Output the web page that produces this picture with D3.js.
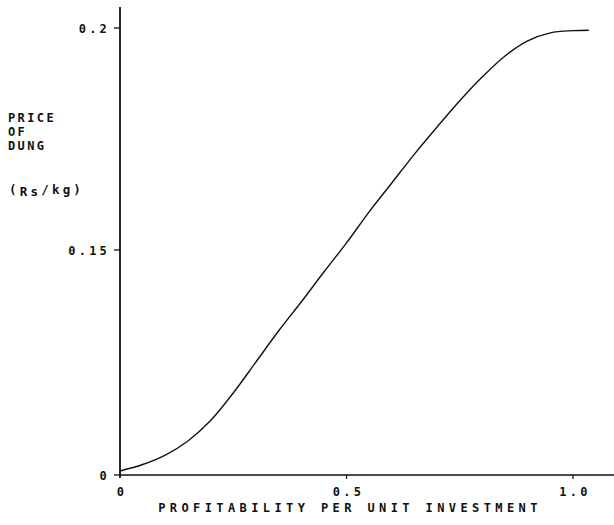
<!DOCTYPE html>
<html><head><meta charset="utf-8">
<script src="https://cdn.jsdelivr.net/npm/d3@7"></script>
<style>
body{margin:0;background:#fff;}
text{font-family:"DejaVu Sans Mono",monospace;fill:#111;font-weight:bold;}
</style></head>
<body><svg id="c" width="614" height="525"></svg>
<script>
const profitability = [0, 0.05, 0.1, 0.15, 0.2, 0.25, 0.3, 0.35, 0.4, 0.45, 0.5, 0.55, 0.6, 0.65, 0.7, 0.75, 0.8, 0.85, 0.9, 0.95, 1.0, 1.035];
const price = [0.0027, 0.007, 0.0133, 0.0227, 0.0363, 0.0547, 0.0753, 0.096, 0.1153, 0.1353, 0.1516, 0.1586, 0.1651, 0.1716, 0.1777, 0.1836, 0.189, 0.1937, 0.1971, 0.1989, 0.1994, 0.1995];
const xTicks = [0, 0.5, 1.0];
const xTickLabels = ["0", "0.5", "1.0"];
const yTicks = [0, 0.15, 0.2];
const yTickLabels = ["0", "0.15", "0.2"];
const yTitle = ["PRICE", "OF", "DUNG"];
const xTitle = "PROFITABILITY PER UNIT INVESTMENT";

const svg = d3.select("#c");
const x = d3.scaleLinear().domain([0, 1.0]).range([120, 573]);
// broken axis in original: piecewise linear
const y = d3.scaleLinear().domain([0, 0.15, 0.2]).range([475, 250, 28]);

// axes lines
svg.append("line").attr("x1", x(0)).attr("x2", 614).attr("y1", y(0)).attr("y2", y(0))
  .attr("stroke", "#111").attr("stroke-width", 1.6);
svg.append("line").attr("x1", x(0)).attr("x2", x(0)).attr("y1", 7).attr("y2", y(0) + 3)
  .attr("stroke", "#111").attr("stroke-width", 1.8);

// y ticks
const yt = svg.append("g");
yTicks.forEach((v, i) => {
  yt.append("line").attr("x1", x(0) - 6).attr("x2", x(0)).attr("y1", y(v)).attr("y2", y(v))
    .attr("stroke", "#111").attr("stroke-width", 1.3);
  yt.append("text").attr("x", x(0) - 10).attr("y", y(v) + 4.5)
    .attr("text-anchor", "end").attr("font-size", 12).attr("letter-spacing", 3.2)
    .text(yTickLabels[i]);
});
// x ticks
const xt = svg.append("g");
xTicks.forEach((v, i) => {
  if (v > 0) xt.append("line").attr("x1", x(v)).attr("x2", x(v)).attr("y1", y(0)).attr("y2", y(0) + 4)
    .attr("stroke", "#111").attr("stroke-width", 1.3);
  xt.append("text").attr("x", x(v) + 2).attr("y", y(0) + 21)
    .attr("text-anchor", "middle").attr("font-size", 12).attr("letter-spacing", 3.2)
    .text(xTickLabels[i]);
});

// titles
yTitle.forEach((t, i) => {
  svg.append("text").attr("x", 8).attr("y", 122 + i * 14).attr("font-size", 12)
    .attr("letter-spacing", 2.4).text(t);
});
const u = svg.append("text").attr("x", 9).attr("y", 194).attr("font-size", 12.5).attr("letter-spacing", 3.2);
u.append("tspan").text("(");
u.append("tspan").attr("dy", 2).text("Rs");
u.append("tspan").attr("dy", -2).text("/kg)");

svg.append("text").attr("x", 350).attr("y", 512).attr("text-anchor", "middle")
  .attr("font-size", 12).attr("letter-spacing", 4.4).text(xTitle);

// curve
const data = profitability.map((p, i) => [p, price[i]]);
svg.append("path").datum(data)
  .attr("d", d3.line().x(d => x(d[0])).y(d => y(d[1])).curve(d3.curveCatmullRom.alpha(0.5)))
  .attr("fill", "none").attr("stroke", "#111").attr("stroke-width", 1.4);
</script></body></html>
